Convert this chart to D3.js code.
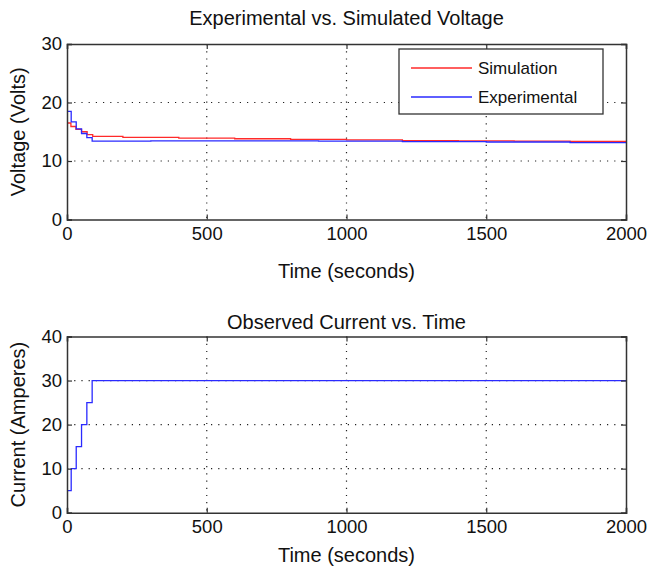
<!DOCTYPE html>
<html>
<head>
<meta charset="utf-8">
<script src="https://cdn.jsdelivr.net/npm/d3@7"></script>
<style>
  body { margin: 0; background: #fff; }
  text { font-family: "Liberation Sans", Arial, sans-serif; fill: #111; }
</style>
</head>
<body>
<div id="chart"></div>
<script>
// voltage data (seconds, volts)
const simTime = [0, 14, 32, 52, 72, 92, 200, 400, 600, 800, 1000, 1200, 1400, 1600, 1800, 2000];
const simVolt = [16.5, 15.9, 15.4, 15.0, 14.5, 14.2, 14.05, 13.9, 13.8, 13.7, 13.6, 13.5, 13.45, 13.4, 13.35, 13.3];
const expTime = [0, 15, 33, 52, 71, 90, 300, 600, 900, 1200, 1500, 1800, 2000];
const expVolt = [18.5, 16.7, 15.5, 14.7, 14.0, 13.4, 13.45, 13.45, 13.4, 13.3, 13.25, 13.15, 13.1];

// current data (seconds, amperes)
const curTime = [0, 15, 33, 52, 71, 90, 2000];
const curAmps = [5, 10, 15, 20, 25, 30, 30];

const xTicks = [0, 500, 1000, 1500, 2000];
const voltTicks = [0, 10, 20, 30];
const ampTicks = [0, 10, 20, 30, 40];

const W = 648, H = 570;
const left = 67, right = 626;

const svg = d3.select("#chart").append("svg")
  .attr("width", W).attr("height", H);

function panel(cfg) {
  const x = d3.scaleLinear().domain([0, 2000]).range([left, right]);
  const y = d3.scaleLinear().domain(cfg.yDomain).range([cfg.bottom, cfg.top]);
  const g = svg.append("g");

  // dotted grid
  g.selectAll(".vgrid").data(xTicks.slice(1, -1)).join("line")
    .attr("x1", d => x(d)).attr("x2", d => x(d))
    .attr("y1", cfg.top).attr("y2", cfg.bottom)
    .attr("stroke", "#222").attr("stroke-width", 1.2)
    .attr("stroke-dasharray", "1.2,6");
  g.selectAll(".hgrid").data(cfg.yTicks.slice(1, -1)).join("line")
    .attr("x1", left).attr("x2", right)
    .attr("y1", d => y(d)).attr("y2", d => y(d))
    .attr("stroke", "#222").attr("stroke-width", 1.2)
    .attr("stroke-dasharray", "1.2,6");

  // series
  cfg.series.forEach(s => {
    const pts = s.t.map((t, i) => [t, s.v[i]]);
    g.append("path").datum(pts)
      .attr("fill", "none")
      .attr("stroke", s.color)
      .attr("stroke-width", 1.3)
      .attr("d", d3.line().x(d => x(d[0])).y(d => y(d[1])).curve(d3.curveStepAfter));
  });

  // axes with inward ticks, boxed
  const tick = 5;
  g.append("g").attr("transform", `translate(0,${cfg.bottom})`)
    .call(d3.axisBottom(x).tickValues(xTicks).tickSize(-tick).tickPadding(7).tickFormat(d3.format("d")));
  g.append("g").attr("transform", `translate(0,${cfg.top})`)
    .call(d3.axisTop(x).tickValues(xTicks).tickSize(-tick).tickFormat(""));
  g.append("g").attr("transform", `translate(${left},0)`)
    .call(d3.axisLeft(y).tickValues(cfg.yTicks).tickSize(-tick).tickPadding(5));
  g.append("g").attr("transform", `translate(${right},0)`)
    .call(d3.axisRight(y).tickValues(cfg.yTicks).tickSize(-tick).tickFormat(""));
  g.selectAll(".domain").attr("stroke", "#333").attr("stroke-width", 1.5);
  g.selectAll(".tick line").attr("stroke", "#333").attr("stroke-width", 1.2);
  g.selectAll(".tick text").style("font-size", "18.5px")
    .style("font-family", "'Liberation Sans', Arial, sans-serif").attr("fill", "#111");

  // labels
  g.append("text").attr("x", (left + right) / 2).attr("y", cfg.titleY)
    .attr("text-anchor", "middle").style("font-size", "20px").text(cfg.title);
  g.append("text").attr("x", (left + right) / 2).attr("y", cfg.xLabelY)
    .attr("text-anchor", "middle").style("font-size", "20px").text("Time (seconds)");
  g.append("text")
    .attr("transform", `translate(25,${(cfg.top + cfg.bottom) / 2}) rotate(-90)`)
    .attr("text-anchor", "middle").style("font-size", "20px").text(cfg.yLabel);

  return { x, y, g };
}

const top1 = panel({
  top: 44, bottom: 219.5, yDomain: [0, 30], yTicks: voltTicks,
  titleY: 25, xLabelY: 278,
  title: "Experimental vs. Simulated Voltage", yLabel: "Voltage (Volts)",
  series: [
    { t: simTime, v: simVolt, color: "#ff2a2a" },
    { t: expTime, v: expVolt, color: "#2a2aff" }
  ]
});

panel({
  top: 336.5, bottom: 512.7, yDomain: [0, 40], yTicks: ampTicks,
  titleY: 329, xLabelY: 562,
  title: "Observed Current vs. Time", yLabel: "Current (Amperes)",
  series: [{ t: curTime, v: curAmps, color: "#2a2aff" }]
});

// legend
const legendItems = [
  { name: "Simulation", color: "#ff2a2a" },
  { name: "Experimental", color: "#2a2aff" }
];
const lg = top1.g.append("g").attr("transform", "translate(399,49)");
lg.append("rect").attr("width", 204).attr("height", 65)
  .attr("fill", "#fff").attr("stroke", "#333").attr("stroke-width", 1.3);
const li = lg.selectAll(".item").data(legendItems).join("g")
  .attr("transform", (d, i) => `translate(0,${19 + i * 29})`);
li.append("line").attr("x1", 12).attr("x2", 73)
  .attr("stroke", d => d.color).attr("stroke-width", 1.3);
li.append("text").attr("x", 79).attr("y", 6)
  .style("font-size", "17px").text(d => d.name);
</script>
</body>
</html>
